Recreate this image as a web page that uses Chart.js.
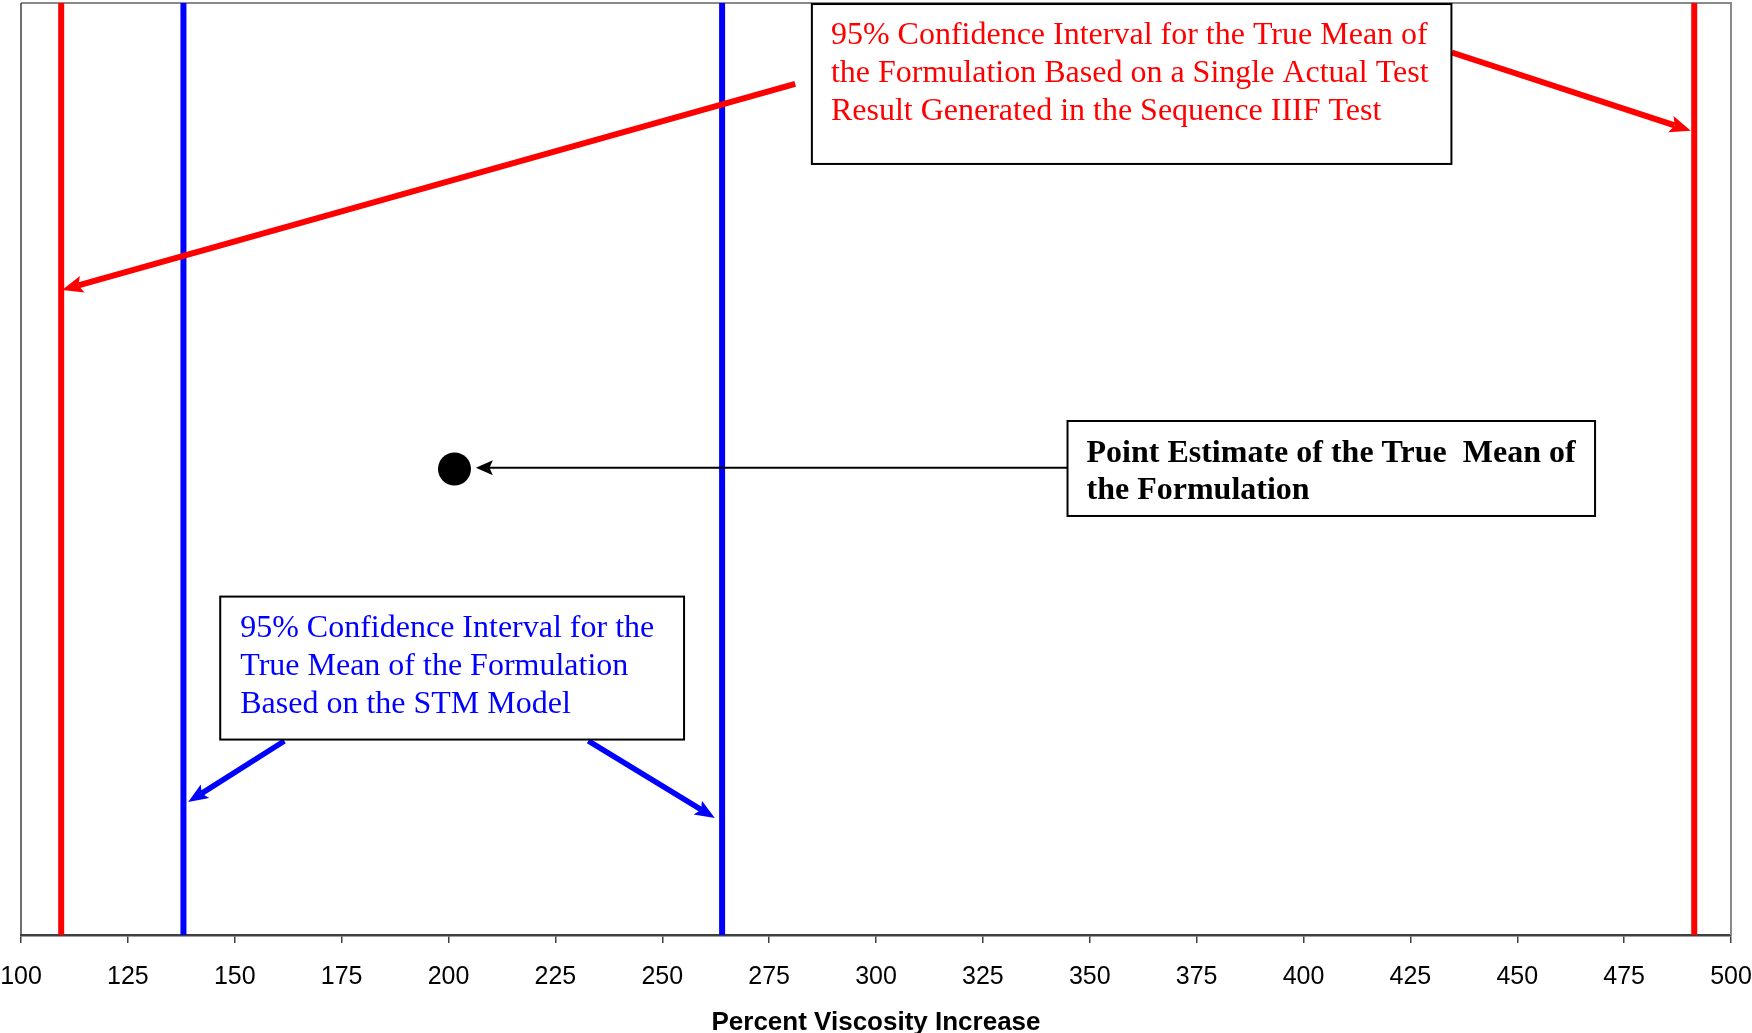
<!DOCTYPE html>
<html>
<head>
<meta charset="utf-8">
<script src="https://cdn.jsdelivr.net/npm/chart.js@4.4.1/dist/chart.umd.min.js"></script>
<style>
  html, body { margin: 0; padding: 0; background: #ffffff; }
  #wrap { width: 1752px; height: 1033px; }
</style>
</head>
<body>
<div id="wrap"><canvas id="chart" width="1752" height="1033"></canvas></div>
<script>
// Percent viscosity increase axis
const xTickValues = [100, 125, 150, 175, 200, 225, 250, 275, 300, 325, 350, 375, 400, 425, 450, 475, 500];

// 95% CI bounds based on a single actual Sequence IIIF test result
const singleTestBounds = [109.4, 491.4];
// 95% CI bounds based on the STM model
const stmBounds = [138, 264];
// Point estimate of the true mean of the formulation
const pointEstimate = [201.4];
const pointLevel = [0.5];

const axisTitle = 'Percent Viscosity Increase';
const singleTestText = ['95% Confidence Interval for the True Mean of',
                        'the Formulation Based on a Single Actual Test',
                        'Result Generated in the Sequence IIIF Test'];
const pointText = ['Point Estimate of the True  Mean of', 'the Formulation'];
const stmText = ['95% Confidence Interval for the', 'True Mean of the Formulation', 'Based on the STM Model'];

const RED = '#ff0000', BLUE = '#0000ff', BLACK = '#000000';

function boundLine(x, color) {
  return {
    type: 'scatter', showLine: true,
    data: [{ x: x, y: 0 }, { x: x, y: 1 }],
    borderColor: color, borderWidth: 6, borderCapStyle: 'round',
    pointRadius: 0, pointHoverRadius: 0
  };
}

// Callout boxes and arrows, placed in data units (x: % increase, y: 0..1 of the plot height)
const callouts = {
  boxes: [
    { x0: 285.0, x1: 434.6, y0: 0.9989, y1: 0.8273, lines: singleTestText, color: RED, bold: false, padX: 19, base: 40, step: 38 },
    { x0: 344.8, x1: 468.2, y0: 0.5515, y1: 0.4496, lines: pointText, color: BLACK, bold: true, padX: 19, base: 41, step: 37 },
    { x0: 146.6, x1: 255.1, y0: 0.3631, y1: 0.2097, lines: stmText, color: BLUE, bold: false, padX: 20, base: 40.5, step: 38 }
  ],
  arrows: [
    { from: [281.1, 0.9133], to: [109.6, 0.6921], color: RED, width: 6, head: 21, headW: 17 },
    { from: [434.7, 0.9469], to: [490.6, 0.8630], color: RED, width: 6, head: 21, headW: 17 },
    { from: [344.8, 0.5013], to: [206.4, 0.5013], color: BLACK, width: 2, head: 17, headW: 15 },
    { from: [161.6, 0.2082], to: [139.1, 0.1427], color: BLUE, width: 5.5, head: 20, headW: 16 },
    { from: [232.7, 0.2082], to: [262.3, 0.1255], color: BLUE, width: 5.5, head: 20, headW: 16 }
  ]
};

function drawArrow(ctx, x1, y1, x2, y2, color, width, headLen, headW) {
  const a = Math.atan2(y2 - y1, x2 - x1);
  const c = Math.cos(a), s = Math.sin(a);
  const bx = x2 - headLen * c, by = y2 - headLen * s;
  ctx.save();
  ctx.strokeStyle = color;
  ctx.lineWidth = width;
  ctx.lineCap = 'butt';
  ctx.beginPath();
  ctx.moveTo(x1, y1);
  ctx.lineTo(bx + 4 * c, by + 4 * s);
  ctx.stroke();
  ctx.fillStyle = color;
  ctx.beginPath();
  ctx.moveTo(x2, y2);
  ctx.lineTo(bx + (headW / 2) * s, by - (headW / 2) * c);
  ctx.lineTo(x2 - headLen * 0.8 * c, y2 - headLen * 0.8 * s);
  ctx.lineTo(bx - (headW / 2) * s, by + (headW / 2) * c);
  ctx.closePath();
  ctx.fill();
  ctx.restore();
}

const framePlugin = {
  id: 'plotFrame',
  beforeDatasetsDraw(chart) {
    const { ctx, chartArea: a } = chart;
    ctx.save();
    ctx.strokeStyle = '#8a8a8a';
    ctx.lineWidth = 2;
    ctx.beginPath();
    ctx.moveTo(a.left, a.top);
    ctx.lineTo(a.right, a.top);
    ctx.lineTo(a.right, a.bottom);
    ctx.stroke();
    ctx.strokeStyle = '#404040';
    ctx.lineWidth = 1.5;
    ctx.beginPath();
    ctx.moveTo(a.left, a.top);
    ctx.lineTo(a.left, a.bottom);
    ctx.stroke();
    ctx.restore();
  }
};

const calloutPlugin = {
  id: 'callouts',
  afterDatasetsDraw(chart) {
    const { ctx } = chart;
    const xs = chart.scales.x, ys = chart.scales.y;
    const px = v => xs.getPixelForValue(v), py = v => ys.getPixelForValue(v);
    callouts.arrows.forEach(ar => {
      drawArrow(ctx, px(ar.from[0]), py(ar.from[1]), px(ar.to[0]), py(ar.to[1]), ar.color, ar.width, ar.head, ar.headW);
    });
    callouts.boxes.forEach(b => {
      const l = px(b.x0), r = px(b.x1), t = py(b.y0), btm = py(b.y1);
      ctx.save();
      ctx.fillStyle = '#ffffff';
      ctx.fillRect(l, t, r - l, btm - t);
      ctx.strokeStyle = '#000000';
      ctx.lineWidth = 2;
      ctx.strokeRect(l, t, r - l, btm - t);
      ctx.fillStyle = b.color;
      ctx.font = (b.bold ? 'bold ' : '') + '32px "Liberation Serif", "Times New Roman", serif';
      ctx.textAlign = 'left';
      ctx.textBaseline = 'alphabetic';
      b.lines.forEach((line, i) => ctx.fillText(line, l + b.padX, t + b.base + i * b.step));
      ctx.restore();
    });
  }
};

new Chart(document.getElementById('chart'), {
  type: 'scatter',
  data: {
    datasets: [
      boundLine(singleTestBounds[0], RED),
      boundLine(stmBounds[0], BLUE),
      boundLine(stmBounds[1], BLUE),
      boundLine(singleTestBounds[1], RED),
      {
        type: 'scatter',
        data: pointEstimate.map((v, i) => ({ x: v, y: pointLevel[i] })),
        backgroundColor: BLACK, borderColor: BLACK, borderWidth: 0,
        pointRadius: 16.5, pointHoverRadius: 16.5
      }
    ]
  },
  options: {
    responsive: false,
    devicePixelRatio: 1,
    animation: false,
    events: [],
    layout: { autoPadding: false, padding: { left: 21, right: 21, top: 3, bottom: 0 } },
    plugins: { legend: { display: false }, tooltip: { enabled: false } },
    scales: {
      x: {
        type: 'linear', min: 100, max: 500,
        afterBuildTicks: s => { s.ticks = xTickValues.map(v => ({ value: v })); },
        afterFit: s => { s.height = 98; s.paddingLeft = 0; s.paddingRight = 0; },
        grid: { display: true, drawOnChartArea: false, drawTicks: true, tickLength: 8, color: '#404040', lineWidth: 1.5 },
        border: { display: true, color: '#404040', width: 2.5 },
        ticks: {
          autoSkip: false, maxRotation: 0, padding: 19, color: '#000000',
          font: { family: '"Liberation Sans", Arial, sans-serif', size: 25 },
          callback: v => String(v)
        },
        title: {
          display: true, text: axisTitle, color: '#000000',
          font: { family: '"Liberation Sans", Arial, sans-serif', size: 26, weight: 'bold' },
          padding: { top: 0, bottom: -5 }
        }
      },
      y: { type: 'linear', min: 0, max: 1, display: false }
    }
  },
  plugins: [framePlugin, calloutPlugin]
});
</script>
</body>
</html>
